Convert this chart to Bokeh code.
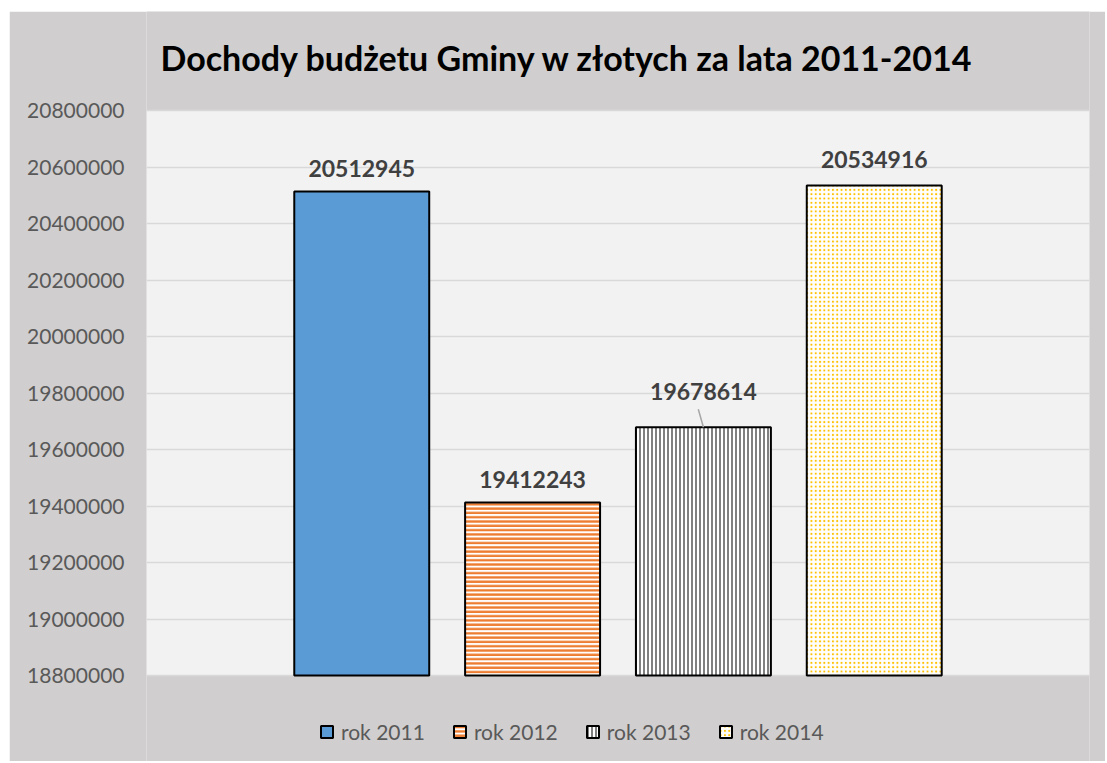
from bokeh.plotting import figure
from bokeh.models import (ColumnDataSource, FixedTicker, PrintfTickFormatter, Legend,
                          LegendItem, Range1d)
from bokeh.core.properties import value
from bokeh.embed import file_html
from bokeh.resources import INLINE

series = ["rok 2011", "rok 2012", "rok 2013", "rok 2014"]
values = [20512945, 19412243, 19678614, 20534916]
y_ticks = [18800000, 19000000, 19200000, 19400000, 19600000, 19800000,
           20000000, 20200000, 20400000, 20600000, 20800000]
title_text = "Dochody budżetu Gminy w złotych za lata 2011-2014"

fills = ["#5b9bd5", "white", "white", "white"]
hatches = [" ", "-", "|", "."]
hatch_colors = ["#5b9bd5", "#ed7d31", "#808080", "#ffc000"]
hatch_scales = [4, 4.3, 4, 4.3]
hatch_weights = [1, 2.4, 2, 4]
label_offsets = [23, 23, 36, 26]  # px above bar top

FONT = "Lato"
GRAY_BG = "#d0cece"
W, H = 1096, 750
LEFT, RIGHT = 137, 16
TOP_PX = 99.0             # space above plotting area (title zone), inside the frame
PLOT_PX = 565.0           # pixel height of the plotting area
EXTRA_PX = H - TOP_PX - PLOT_PX   # space below the plotting area (legend zone)
FRAME_W = W - LEFT - RIGHT
X0, X1 = -1.26, 4.26
px = (y_ticks[-1] - y_ticks[0]) / PLOT_PX
ux = (X1 - X0) / FRAME_W

p = figure(width=W, height=H, output_backend="svg", toolbar_location=None,
           x_range=Range1d(X0, X1),
           y_range=Range1d(y_ticks[0] - EXTRA_PX * px, y_ticks[-1] + TOP_PX * px),
           min_border_left=LEFT, min_border_right=RIGHT, min_border_top=0,
           min_border_bottom=0)
p.margin = (11, 0, 0, 9)
p.title.visible = False
p.background_fill_color = GRAY_BG
p.border_fill_color = GRAY_BG
p.outline_line_color = None

# plotting-area background
p.quad(left=[X0], right=[X1], bottom=[y_ticks[0]], top=[y_ticks[-1]],
       fill_color="#f2f2f2", line_color=None, level="image")

# chart title (placed in the zone above the plotting area)
p.text(x=[X0 + 14 * ux], y=[y_ticks[-1] + 53 * px], text=[title_text],
       text_align="left", text_baseline="middle", text_font=value(FONT),
       text_font_size="34px", text_font_style="bold", text_color="black")

p.xaxis.visible = False
p.xgrid.visible = False
ya = p.yaxis[0]
ya.ticker = FixedTicker(ticks=y_ticks)
ya.formatter = PrintfTickFormatter(format="%d")
ya.axis_line_color = None
ya.major_tick_line_color = None
ya.minor_tick_line_color = None
ya.major_tick_out = 0
ya.major_tick_in = 0
ya.major_label_standoff = 22
ya.major_label_text_font = FONT
ya.major_label_text_font_size = "21px"
ya.major_label_text_color = "#595959"
p.ygrid.grid_line_color = "#d9d9d9"
p.ygrid.grid_line_width = 1.5
p.ygrid.ticker = FixedTicker(ticks=y_ticks)

items = []
for i, (s, v) in enumerate(zip(series, values)):
    r = p.vbar(x=[i], top=[v], bottom=y_ticks[0], width=0.79,
               fill_color=fills[i], line_color="black", line_width=2,
               hatch_pattern=hatches[i], hatch_color=hatch_colors[i],
               hatch_scale=hatch_scales[i], hatch_weight=hatch_weights[i])
    items.append(LegendItem(label=s, renderers=[r]))

lab = ColumnDataSource(dict(x=list(range(len(values))),
                            y=[v + o * px for v, o in zip(values, label_offsets)],
                            t=[str(v) for v in values]))
p.text(x="x", y="y", text="t", source=lab, text_align="center", text_baseline="middle",
       text_font=value(FONT), text_font_size="23px", text_font_style="bold",
       text_color="#404040")
# leader line for the 2013 label
p.segment(x0=[2.0], y0=[values[2]], x1=[1.97], y1=[values[2] + 18 * px],
          line_color="#a6a6a6", line_width=1.5)

legend = Legend(items=items, orientation="horizontal", location=(173, 17),
                label_text_font=FONT, label_text_font_size="21px",
                label_text_color="#595959", glyph_width=15, glyph_height=15,
                label_standoff=7, spacing=27, padding=0, margin=0,
                border_line_color=None, background_fill_alpha=0)
p.add_layout(legend, "center")

open("out.html", "w").write(file_html(p, INLINE))
